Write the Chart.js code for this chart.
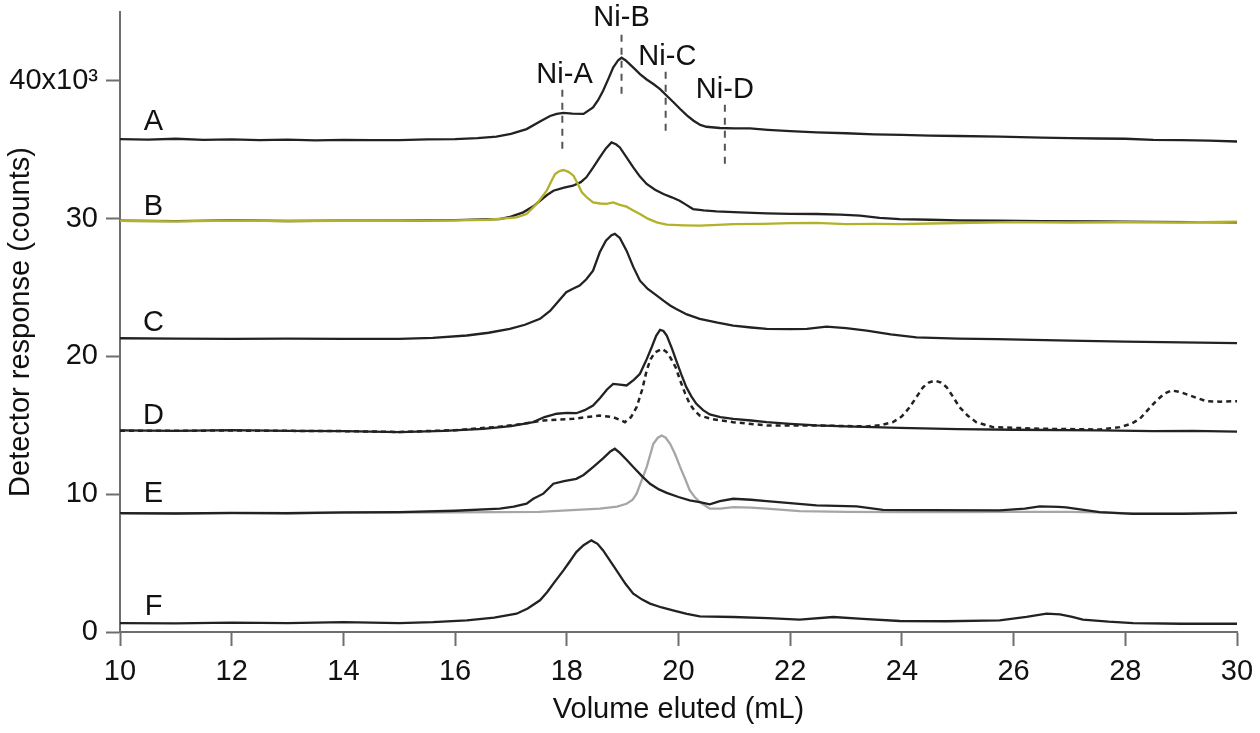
<!DOCTYPE html>
<html>
<head>
<meta charset="utf-8">
<script src="https://cdn.jsdelivr.net/npm/chart.js@4/dist/chart.umd.min.js"></script>
<style>
  html, body { margin: 0; padding: 0; background: #fff; }
  #wrap { width: 1260px; height: 733px; position: relative; }
</style>
</head>
<body>
<div id="wrap"><canvas id="c"></canvas></div>
<script>
// ---- Data (detector response in thousands of counts vs. volume eluted, mL) ----
const xTicks = [10, 12, 14, 16, 18, 20, 22, 24, 26, 28, 30];
const yTicks = [0, 10, 20, 30, 40];

const volA = [10.0,10.5,11.0,11.5,12.0,12.5,13.0,13.5,14.0,14.5,15.0,15.5,16.0,16.4,16.74,17.0,17.28,17.52,17.7,17.82,17.94,18.1,18.3,18.47,18.56,18.65,18.75,18.83,18.92,18.98,19.05,19.13,19.22,19.31,19.43,19.55,19.67,19.79,19.91,20.03,20.15,20.27,20.39,20.5,20.74,21.0,21.28,21.6,22.0,22.47,23.0,23.5,24.0,24.5,25.0,25.75,26.5,27.0,27.5,28.0,28.5,29.0,29.5,30.0];
const respA = [35.78,35.74,35.8,35.72,35.76,35.7,35.74,35.68,35.72,35.7,35.7,35.75,35.78,35.85,35.95,36.15,36.5,37.06,37.45,37.6,37.68,37.62,37.6,38.07,38.6,39.28,40.2,40.97,41.5,41.68,41.5,41.2,40.85,40.49,40.1,39.77,39.4,38.92,38.45,37.96,37.5,37.11,36.8,36.67,36.58,36.56,36.55,36.45,36.35,36.26,36.2,36.12,36.08,36.02,36.0,35.95,35.88,35.85,35.82,35.8,35.72,35.7,35.66,35.6];

const volB = [10,11,12,13,14,15,15.5,16,16.5,16.8,17.0,17.22,17.4,17.52,17.64,17.76,17.95,18.11,18.25,18.35,18.47,18.59,18.7,18.8,18.88,18.95,19.07,19.19,19.31,19.43,19.58,19.73,19.88,20.02,20.14,20.26,20.45,20.68,21.1,21.58,22.0,22.47,22.9,23.25,23.6,23.96,24.5,25.0,25.75,26.5,27.5,28.5,29.2,30.0];
const respB = [29.85,29.82,29.88,29.83,29.86,29.85,29.88,29.9,29.95,29.97,30.15,30.46,30.9,31.3,31.7,32.03,32.25,32.39,32.65,33.0,33.7,34.45,35.1,35.53,35.4,35.17,34.45,33.72,33.05,32.52,32.1,31.79,31.55,31.3,31.0,30.7,30.6,30.53,30.45,30.38,30.35,30.34,30.3,30.22,30.05,29.97,29.92,29.88,29.85,29.82,29.8,29.76,29.75,29.73];

const volB2 = [10,11,12,13,14,15,16,16.6,17.1,17.28,17.46,17.64,17.72,17.79,17.87,17.94,18.03,18.12,18.2,18.27,18.37,18.47,18.6,18.71,18.83,18.95,19.07,19.19,19.31,19.45,19.61,19.79,20.1,20.38,20.7,20.98,21.5,22.0,22.47,23.0,23.5,24.0,24.5,25.0,25.5,26,27,28,29,30];
const respB2 = [29.85,29.8,29.86,29.82,29.85,29.84,29.88,29.92,30.1,30.34,31.07,32.03,32.7,33.24,33.45,33.53,33.4,33.12,32.5,31.91,31.5,31.18,31.1,31.07,31.18,31.0,30.87,30.6,30.34,30.0,29.73,29.57,29.52,29.49,29.55,29.6,29.62,29.68,29.7,29.6,29.62,29.6,29.65,29.68,29.72,29.75,29.72,29.74,29.72,29.78];

const volC = [10,11,12,13,14,15,15.6,16.21,16.6,16.98,17.25,17.52,17.7,17.85,17.99,18.1,18.23,18.35,18.47,18.59,18.7,18.8,18.86,18.95,19.07,19.19,19.31,19.45,19.6,19.73,19.85,19.96,20.15,20.38,20.7,20.98,21.3,21.58,22.0,22.3,22.65,23.0,23.37,23.8,24.26,25.0,25.7,26.35,27,28,29,30];
const respC = [21.32,21.3,21.28,21.3,21.27,21.27,21.35,21.52,21.72,22.0,22.3,22.73,23.3,24.0,24.66,24.9,25.14,25.6,26.23,27.56,28.4,28.8,28.9,28.6,27.68,26.5,25.5,24.9,24.45,24.05,23.7,23.45,23.05,22.73,22.45,22.24,22.1,22.0,21.98,22.0,22.17,22.05,21.88,21.6,21.39,21.3,21.25,21.2,21.15,21.08,21.02,20.96];

const volD = [10,11,12,13,14,15,15.8,16.5,17.0,17.4,17.6,17.82,18.0,18.17,18.32,18.47,18.6,18.72,18.83,18.95,19.07,19.2,19.31,19.42,19.52,19.6,19.67,19.73,19.79,19.88,19.96,20.05,20.14,20.23,20.32,20.44,20.56,20.75,20.98,21.3,21.58,22.0,22.47,23.0,23.96,25,26,27.54,28.5,29.2,30];
const respD = [14.63,14.6,14.65,14.6,14.58,14.5,14.6,14.75,14.95,15.23,15.6,15.84,15.9,15.88,16.1,16.44,17.0,17.6,18.01,17.95,17.89,18.3,18.74,19.7,20.67,21.5,21.93,21.85,21.52,20.6,19.7,18.7,17.77,17.1,16.56,16.1,15.79,15.6,15.47,15.35,15.23,15.1,14.99,14.92,14.82,14.72,14.68,14.63,14.58,14.6,14.55];

const volD2 = [10,12,14,15,16,16.8,17.2,17.58,17.85,18.11,18.35,18.59,18.83,18.95,19.04,19.15,19.25,19.35,19.43,19.5,19.58,19.7,19.78,19.85,19.95,20.03,20.12,20.2,20.29,20.38,20.6,20.98,21.58,22.47,23.0,23.37,23.6,23.84,24.0,24.14,24.26,24.38,24.48,24.59,24.7,24.8,24.92,25.03,25.18,25.33,25.63,26.5,27.54,27.9,28.1,28.26,28.4,28.56,28.7,28.83,29.0,29.16,29.45,29.7,30];
const respD2 = [14.6,14.62,14.58,14.52,14.65,14.9,15.1,15.35,15.42,15.47,15.6,15.71,15.59,15.4,15.23,15.6,16.32,17.6,18.98,19.8,20.3,20.55,20.35,19.94,19.2,18.25,17.3,16.56,16.05,15.71,15.45,15.23,14.99,14.99,14.95,14.92,15.0,15.23,15.65,16.32,17.05,17.77,18.1,18.25,18.1,17.77,17.05,16.32,15.7,15.23,14.87,14.75,14.7,14.87,15.1,15.47,16.1,16.8,17.3,17.53,17.4,17.16,16.75,16.72,16.75];

const volE = [10,11,12,13,14,15,16,16.8,17.05,17.28,17.4,17.58,17.76,17.95,18.17,18.3,18.47,18.65,18.78,18.86,18.95,19.07,19.19,19.35,19.49,19.65,19.79,20.0,20.2,20.38,20.56,20.74,20.98,21.3,21.58,22.0,22.47,23.19,23.66,24.5,25.75,26.2,26.47,26.8,26.94,27.54,28.14,29.03,30];
const respE = [8.63,8.6,8.65,8.62,8.68,8.7,8.8,8.95,9.1,9.31,9.67,10.04,10.76,10.95,11.12,11.4,11.97,12.6,13.1,13.3,13.0,12.5,11.97,11.3,10.76,10.35,10.1,9.8,9.55,9.43,9.26,9.5,9.67,9.6,9.5,9.35,9.19,9.12,8.87,8.85,8.83,8.95,9.12,9.08,9.05,8.7,8.58,8.58,8.65];

const volE2 = [10,12,14,16,17.5,18.59,18.9,19.07,19.18,19.25,19.34,19.43,19.55,19.63,19.7,19.77,19.85,19.94,20.03,20.12,20.2,20.29,20.38,20.56,20.75,20.98,21.3,21.58,22.17,23,24,25,26,27,27.5,28,29,30];
const respE2 = [8.6,8.62,8.65,8.68,8.72,8.95,9.1,9.31,9.6,10.04,11.0,11.97,13.66,14.1,14.26,14.1,13.66,12.9,11.97,11.1,10.3,9.8,9.43,8.95,8.95,9.07,9.02,8.95,8.77,8.72,8.7,8.7,8.72,8.72,8.68,8.62,8.62,8.65];

const volF = [10,11,12,13,14,15,15.6,16.21,16.7,17.1,17.3,17.52,17.65,17.76,17.94,18.05,18.17,18.3,18.44,18.55,18.65,18.77,18.89,19.05,19.19,19.35,19.49,19.7,19.9,20.15,20.38,20.98,21.6,22.17,22.77,23.3,23.96,24.8,25.75,26.23,26.59,26.83,27.05,27.24,27.7,28.14,29,30];
const respF = [0.65,0.62,0.68,0.65,0.72,0.65,0.72,0.85,1.05,1.33,1.7,2.3,2.9,3.51,4.47,5.1,5.8,6.3,6.65,6.4,5.92,5.2,4.47,3.5,2.78,2.35,2.06,1.78,1.57,1.32,1.14,1.09,1.0,0.9,1.09,0.95,0.8,0.78,0.85,1.09,1.33,1.28,1.1,0.9,0.75,0.65,0.6,0.6];

// trace letters
const traceNames = ['A', 'B', 'C', 'D', 'E', 'F'];
const traceLabelX = [10.6, 10.6, 10.6, 10.6, 10.6, 10.6];
const traceLabelY = [37.03, 30.87, 22.46, 15.71, 9.99, 1.79];

// peak markers
const niNames = ['Ni-A', 'Ni-B', 'Ni-C', 'Ni-D'];
const niX = [17.92, 18.98, 19.77, 20.83];
const niTextX = [17.96, 18.98, 19.80, 20.83];
const niTextY = [40.44, 44.58, 41.75, 39.35];
const niTop = [39.5, 43.51, 40.8, 38.33];
const niBottom = [35.08, 39.07, 36.38, 33.98];

// ---- Build chart ----
const FONT = 'Arial, "Liberation Sans", Helvetica, sans-serif';
const FS = 29;
const toPts = (xs, ys) => xs.map((x, i) => ({ x: x, y: ys[i] }));
const BLACK = '#222222';

const datasets = [];
niX.forEach((x, i) => {
  datasets.push({
    label: niNames[i] + ' marker',
    data: [{ x: x, y: niBottom[i] }, { x: x, y: niTop[i] }],
    borderColor: '#555555', borderWidth: 2, borderDash: [7, 6],
    pointRadius: 0, fill: false
  });
});
const lineDs = (label, xs, ys, color, extra) => Object.assign({
  label: label, data: toPts(xs, ys), borderColor: color, borderWidth: 2.3,
  pointRadius: 0, fill: false, tension: 0
}, extra || {});
datasets.push(lineDs('A', volA, respA, BLACK));
datasets.push(lineDs('B (yellow)', volB2, respB2, '#b2b12a'));
datasets.push(lineDs('B', volB, respB, BLACK));
datasets.push(lineDs('C', volC, respC, BLACK));
datasets.push(lineDs('D (dotted)', volD2, respD2, BLACK, { borderDash: [5, 4], borderWidth: 2.5 }));
datasets.push(lineDs('D', volD, respD, BLACK));
datasets.push(lineDs('E', volE, respE, BLACK));
datasets.push(lineDs('E (grey)', volE2, respE2, '#a6a6a6'));
datasets.push(lineDs('F', volF, respF, BLACK));

const textPlugin = {
  id: 'textLabels',
  afterDatasetsDraw(chart) {
    const ctx = chart.ctx;
    const xs = chart.scales.x, ys = chart.scales.y;
    ctx.save();
    ctx.fillStyle = '#111111';
    ctx.font = FS + 'px ' + FONT;
    ctx.textAlign = 'center';
    ctx.textBaseline = 'middle';
    traceNames.forEach((t, i) => {
      ctx.fillText(t, xs.getPixelForValue(traceLabelX[i]), ys.getPixelForValue(traceLabelY[i]));
    });
    niNames.forEach((t, i) => {
      ctx.fillText(t, xs.getPixelForValue(niTextX[i]), ys.getPixelForValue(niTextY[i]));
    });
    ctx.restore();
  }
};

const AXIS = '#6e6e6e';
new Chart(document.getElementById('c'), {
  type: 'line',
  data: { datasets: datasets },
  plugins: [textPlugin],
  options: {
    responsive: true,
    maintainAspectRatio: false,
    animation: false,
    events: [],
    layout: { padding: { top: 12, right: 23, left: 0, bottom: 0 } },
    plugins: { legend: { display: false }, tooltip: { enabled: false } },
    scales: {
      x: {
        type: 'linear', min: 10, max: 30,
        afterBuildTicks: (s) => { s.ticks = xTicks.map(v => ({ value: v })); },
        afterFit: (s) => { s.height = 101; s.paddingLeft = 0; s.paddingRight = 0; },
        ticks: { color: '#111', font: { family: FONT, size: FS }, padding: 9, maxRotation: 0 },
        grid: { drawOnChartArea: false, drawTicks: true, tickLength: 14, tickWidth: 2, tickColor: AXIS },
        border: { display: true, color: AXIS, width: 2 },
        title: { display: true, text: 'Volume eluted (mL)', color: '#111', font: { family: FONT, size: FS }, padding: { bottom: 6, top: 0 } }
      },
      y: {
        type: 'linear', min: 0, max: 45,
        afterBuildTicks: (s) => { s.ticks = yTicks.map(v => ({ value: v })); },
        afterFit: (s) => { s.width = 120; s.paddingTop = 0; s.paddingBottom = 0; },
        ticks: {
          color: '#111', font: { family: FONT, size: FS }, padding: 8,
          callback: (v) => v === 40 ? '40x10\u00B3' : String(v)
        },
        grid: { drawOnChartArea: false, drawTicks: true, tickLength: 14, tickWidth: 2, tickColor: AXIS },
        border: { display: true, color: AXIS, width: 2 },
        title: { display: true, text: 'Detector response (counts)', color: '#111', font: { family: FONT, size: FS }, padding: { top: 4, bottom: 0 } }
      }
    }
  }
});
</script>
</body>
</html>
